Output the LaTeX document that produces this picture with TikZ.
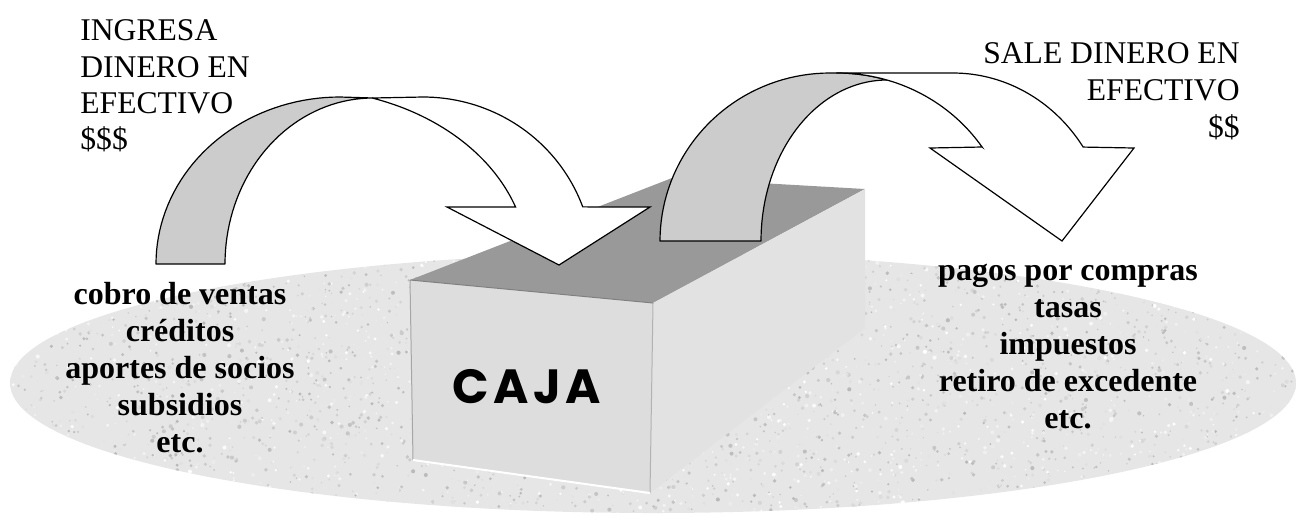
\documentclass[tikz,border=0pt]{standalone}
\usepackage{fontspec}
\setmainfont{Liberation Serif}
\newfontfamily\cajafont[LetterSpace=9]{Poppins}
\definecolor{bandgray}{HTML}{CCCCCC}
\definecolor{topface}{HTML}{999999}
\definecolor{frontface}{HTML}{DDDDDD}
\definecolor{sideface}{HTML}{E2E2E2}
\definecolor{granite}{HTML}{E6E6E6}
\begin{document}
\begin{tikzpicture}[x=0.5pt,y=-0.5pt,
  band/.style={fill=bandgray,draw=black,line width=0.6pt,line join=round},
  front/.style={fill=white,draw=black,line width=0.6pt,line join=miter},
  toptext/.style={inner sep=0pt,font=\fontsize{15.8}{18}\selectfont},
  listtext/.style={inner sep=0pt,anchor=base,font=\fontsize{16}{18.5}\selectfont\bfseries},
  cajatext/.style={inner sep=0pt,anchor=base,font=\fontsize{24}{28}\selectfont\cajafont\bfseries}]
\useasboundingbox (0,0) rectangle (1299,521);

% textured ground ellipse
\begin{scope}
  \clip (653,383) ellipse [x radius=643, y radius=130];
  \fill[granite] (0,240) rectangle (1299,521);
  \pgfmathsetseed{7}
  \foreach \i in {1,...,4500}{
    \pgfmathsetmacro\px{10+1290*rnd}
    \pgfmathsetmacro\py{250+270*rnd}
    \pgfmathsetmacro\g{28*rnd}
    \pgfmathsetmacro\rr{0.7+1.4*rnd}
    \fill[black!\g!white] (\px,\py) circle (\rr);
  }
\end{scope}

% box
\coordinate (fl) at (410,280);
\coordinate (fr) at (653,303);
\coordinate (bl) at (413,460);
\coordinate (br) at (650,493);
\coordinate (tbl) at (672,178);
\coordinate (tbr) at (865,189);
\coordinate (sbr) at (865,328);
\fill[topface] (fl) -- (tbl) -- (tbr) -- (fr) -- cycle;
\fill[sideface] (fr) -- (tbr) -- (sbr) -- (br) -- cycle;
\fill[frontface] (fl) -- (fr) -- (br) -- (bl) -- cycle;
\draw[black!35,line width=0.5pt] (fl) -- (bl);
\draw[black!30,line width=0.5pt] (fr) -- (br);
\draw[black!50,line width=0.5pt] (fl) -- (fr);
\draw[white,line width=1pt] (bl) -- (br);
\node[cajatext] (caja) at (527,403) {CAJA};

% left arrow (incoming)
\draw[band] (156,264)
  -- plot[domain=180:90,samples=40] ({340+184*cos(\x)},{264-167*sin(\x)})
  -- (373,98)
  -- plot[domain=90:180,samples=40] ({373+148*cos(\x)},{264-166*sin(\x)})
  -- cycle;
\draw[front] (373,98) -- (423,97)
  -- plot[domain=90:20,samples=40] ({423+170*cos(\x)},{264-167*sin(\x)})
  -- (650,207) -- (559,265) -- (447,207) -- (515,207)
  -- plot[domain=19:71.3,samples=40] ({300+228*cos(\x)},{264-175*sin(\x)})
  -- cycle;

% right arrow (outgoing)
\draw[band] (660,241)
  -- plot[domain=180:90,samples=40] ({830+170*cos(\x)},{241-168*sin(\x)})
  -- (837,73)
  -- plot[domain=90:73.4,samples=20] ({837+175*cos(\x)},{241-168*sin(\x)})
  -- plot[domain=90:180,samples=40] ({887+126*cos(\x)},{241-161*sin(\x)})
  -- cycle;
\draw[front] (837,73) -- (953,73)
  -- plot[domain=90:34,samples=40] ({953+157*cos(\x)},{241-168*sin(\x)})
  -- (1134,148) -- (1062,241) -- (930,148) -- (982,147)
  -- plot[domain=34:90,samples=40] ({837+175*cos(\x)},{241-168*sin(\x)})
  -- cycle;

% top texts
\node[toptext,anchor=base west] (in1) at (80,40) {INGRESA};
\node[toptext,anchor=base west] (in2) at (80,77) {DINERO EN};
\node[toptext,anchor=base west] (in3) at (80,113) {EFECTIVO};
\node[toptext,anchor=base west] (in4) at (80,149) {\$\$\$};
\node[toptext,anchor=base east] (out1) at (1240,63) {SALE DINERO EN};
\node[toptext,anchor=base east] (out2) at (1240,100) {EFECTIVO};
\node[toptext,anchor=base east] (out3) at (1240,137) {\$\$};

% lists
\node[listtext] (l1) at (180,304) {cobro de ventas};
\node[listtext] (l2) at (180,341) {créditos};
\node[listtext] (l3) at (180,378) {aportes de socios};
\node[listtext] (l4) at (180,415) {subsidios};
\node[listtext] (l5) at (180,452) {etc.};
\node[listtext] (r1) at (1068,280) {pagos por compras};
\node[listtext] (r2) at (1068,317) {tasas};
\node[listtext] (r3) at (1068,354) {impuestos};
\node[listtext] (r4) at (1068,391) {retiro de excedente};
\node[listtext] (r5) at (1068,428) {etc.};
\end{tikzpicture}
\end{document}
